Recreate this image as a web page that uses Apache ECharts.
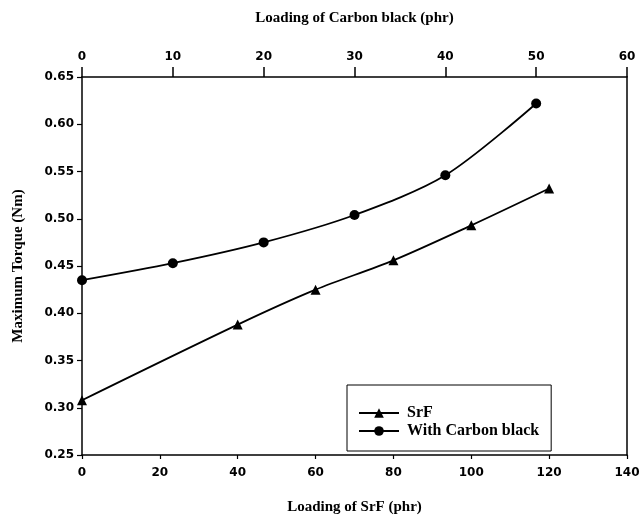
<!DOCTYPE html>
<html>
<head>
<meta charset="utf-8">
<script src="https://cdn.jsdelivr.net/npm/echarts@6/dist/echarts.min.js"></script>
<style>
  html, body { margin: 0; padding: 0; background: #fff; }
  #chart { width: 641px; height: 519px; }
</style>
</head>
<body>
<div id="chart"></div>
<script>
// SrF loading (bottom axis) vs. maximum torque
const srfLoading = [0, 40, 60, 80, 100, 120];
const srfTorque = [0.308, 0.388, 0.425, 0.456, 0.493, 0.532];

// Carbon black loading (top axis) vs. maximum torque
const cbLoading = [0, 10, 20, 30, 40, 50];
const cbTorque = [0.435, 0.453, 0.475, 0.504, 0.546, 0.622];

const seriesNames = ['SrF', 'With Carbon black'];

const serif = 'Liberation Serif';
const sans = 'DejaVu Sans';

const chart = echarts.init(document.getElementById('chart'));

const axisLineStyle = { color: '#000', width: 1.5 };
const tickLabel = { fontFamily: sans, fontWeight: 'bold', fontSize: 12, color: '#000' };
const titleText = { fontFamily: serif, fontWeight: 'bold', fontSize: 15, color: '#000' };

chart.setOption({
  backgroundColor: '#fff',
  animation: false,
  grid: { left: 82, right: 14, top: 77, bottom: 64, containLabel: false, outerBoundsMode: 'none' },
  legend: {
    data: seriesNames,
    orient: 'vertical',
    left: 347,
    top: 385,
    padding: [20, 12, 12, 11],
    itemGap: 2,
    itemWidth: 40,
    itemHeight: 12,
    borderColor: '#000',
    borderWidth: 1,
    backgroundColor: '#fff',
    textStyle: { fontFamily: serif, fontWeight: 'bold', fontSize: 16, color: '#000', padding: [0, 0, 0, 3] }
  },
  xAxis: [
    {
      type: 'value',
      position: 'bottom',
      min: 0, max: 140, interval: 20,
      name: 'Loading of SrF (phr)',
      nameLocation: 'middle',
      nameGap: 45,
      nameTextStyle: titleText,
      axisLine: { show: true, lineStyle: axisLineStyle },
      axisTick: { show: true, inside: false, length: 4, lineStyle: { color: '#000', width: 1.2 } },
      axisLabel: Object.assign({ margin: 12 }, tickLabel),
      splitLine: { show: false }
    },
    {
      type: 'value',
      position: 'top',
      min: 0, max: 60, interval: 10,
      name: 'Loading of Carbon black (phr)',
      nameLocation: 'middle',
      nameGap: 51,
      nameTextStyle: titleText,
      axisLine: { show: true, lineStyle: axisLineStyle },
      axisTick: { show: true, inside: false, length: 10, lineStyle: { color: '#000', width: 1.5 } },
      axisLabel: Object.assign({ margin: 14 }, tickLabel),
      splitLine: { show: false }
    }
  ],
  yAxis: [
    {
      type: 'value',
      position: 'left',
      min: 0.25, max: 0.65, interval: 0.05,
      name: 'Maximum Torque (Nm)',
      nameLocation: 'middle',
      nameGap: 56,
      nameTextStyle: titleText,
      axisLine: { show: true, lineStyle: axisLineStyle },
      axisTick: { show: true, inside: false, length: 5, lineStyle: { color: '#000', width: 1.2 } },
      axisLabel: Object.assign({ margin: 8, formatter: v => v.toFixed(2) }, tickLabel),
      splitLine: { show: false }
    },
    {
      type: 'value',
      position: 'right',
      min: 0.25, max: 0.65, interval: 0.05,
      axisLine: { show: true, onZero: false, lineStyle: axisLineStyle },
      axisTick: { show: false },
      axisLabel: { show: false },
      splitLine: { show: false }
    }
  ],
  series: [
    {
      name: seriesNames[0],
      type: 'line',
      xAxisIndex: 0,
      yAxisIndex: 0,
      smooth: 0.3,
      symbol: 'triangle',
      symbolSize: 10,
      data: srfLoading.map((x, i) => [x, srfTorque[i]]),
      lineStyle: { color: '#000', width: 1.8 },
      itemStyle: { color: '#000' }
    },
    {
      name: seriesNames[1],
      type: 'line',
      xAxisIndex: 1,
      yAxisIndex: 0,
      smooth: 0.3,
      symbol: 'circle',
      symbolSize: 10,
      data: cbLoading.map((x, i) => [x, cbTorque[i]]),
      lineStyle: { color: '#000', width: 1.8 },
      itemStyle: { color: '#000' }
    }
  ]
});
</script>
</body>
</html>
